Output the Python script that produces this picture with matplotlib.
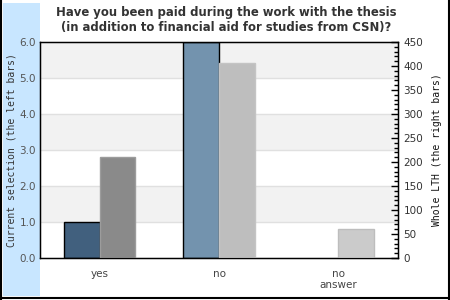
import matplotlib
matplotlib.use("Agg")
import matplotlib.pyplot as plt
from matplotlib.patches import Rectangle
from matplotlib.ticker import MultipleLocator, FormatStrFormatter
import numpy as np

categories = ['yes', 'no', 'no\nanswer']
current = [1, 6, 0]
whole = [210, 406, 60]
left_colors = ['#41607e', '#7393ae', '#a9c0d3']
right_colors = ['#8a8a8a', '#bebebe', '#cbcbcb']
right_edges = ['#9c9c9c', '#c4c4c4', '#bdbdbd']
title = "Have you been paid during the work with the thesis\n(in addition to financial aid for studies from CSN)?"
left_label = "Current selection (the left bars)"
right_label = "Whole LTH (the right bars)"

fig = plt.figure(figsize=(4.5, 3.0), dpi=100)
fig.patch.set_facecolor('white')

# light blue strip and border
fig.patches.append(Rectangle((3/450, 4/300), 37/450, 293/300, transform=fig.transFigure,
                             facecolor='#c8e6ff', edgecolor='none', zorder=-5))
for xs, ys in [([0.002, 0.002], [0, 1]), ([0.997, 0.997], [0, 1]), ([0, 1], [0.007, 0.007])]:
    fig.add_artist(plt.Line2D(xs, ys, transform=fig.transFigure, color='black', lw=1.5, zorder=-4))

ax = fig.add_axes([40/450, 42/300, 358/450, 216/300])
ax.set_zorder(1)
ax.patch.set_visible(True)
ax.set_xlim(-0.5, 2.5)
ax.set_ylim(0, 6)
for lo in (1, 3, 5):
    ax.axhspan(lo, lo + 1, color='#f2f2f2', zorder=0, lw=0)
for y in range(1, 6):
    ax.axhline(y, color='#e0e0e0', lw=1, zorder=0.5)

x = np.arange(len(categories))
w = 0.3
for i in range(len(categories)):
    if current[i] > 0:
        ax.bar(x[i] - w/2, current[i], w, color=left_colors[i], edgecolor='black', lw=1, zorder=2)

ax.set_xticks(x)
ax.set_xticklabels(categories, fontsize=7.5, color='#444444', linespacing=1.1)
ax.tick_params(axis='x', length=0, pad=8)
ax.yaxis.set_major_locator(MultipleLocator(1))
ax.yaxis.set_major_formatter(FormatStrFormatter('%.1f'))
ax.tick_params(axis='y', length=0, labelsize=7.5, labelcolor='#555555', pad=3)
ax.set_ylabel(left_label, family='DejaVu Sans Mono', fontsize=7, color='#333333', labelpad=2)
for s in ax.spines.values():
    s.set_color('black')
    s.set_linewidth(1)

ax2 = ax.twinx()
ax2.set_zorder(2)
ax2.patch.set_visible(False)
ax2.set_ylim(0, 450)
for i in range(len(categories)):
    ax2.bar(x[i] + w/2, whole[i], w, color=right_colors[i], edgecolor=right_edges[i], lw=1, zorder=2)
ax2.yaxis.set_major_locator(MultipleLocator(50))
ax2.yaxis.set_minor_locator(MultipleLocator(10))
ax2.tick_params(axis='y', which='major', direction='in', length=5, width=1, labelsize=7.5,
                labelcolor='#333333', pad=4)
ax2.tick_params(axis='y', which='minor', direction='in', length=3, width=1)
ax2.set_ylabel(right_label, family='DejaVu Sans Mono', fontsize=7, color='#111111', labelpad=6)

fig.text(226/450, 1 - 20/300, title, ha='center', va='center', fontsize=8.4,
         fontweight='bold', color='#333333', linespacing=1.15)

fig.savefig('out.png', dpi=100)
